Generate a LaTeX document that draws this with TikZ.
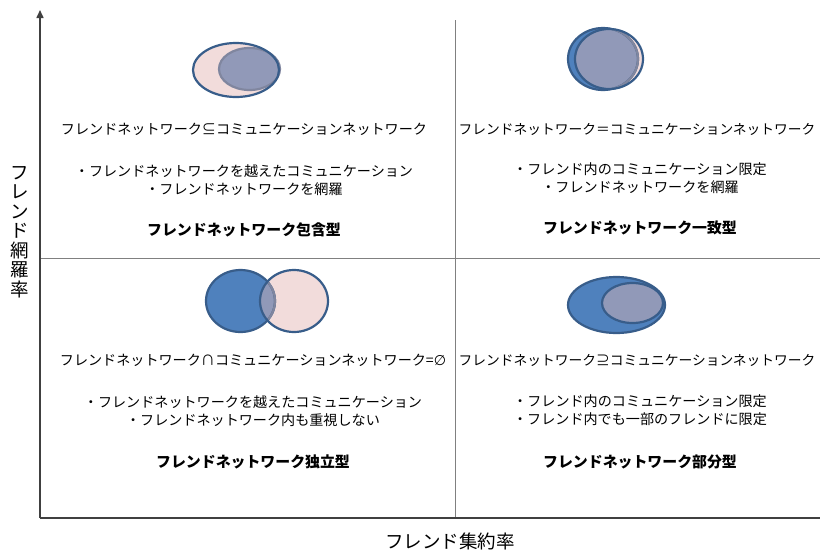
\documentclass[tikz,border=0pt]{standalone}
\usepackage{fontspec}
\usetikzlibrary{arrows.meta}
\newfontfamily\jp{Noto Sans CJK JP}
\newfontfamily\dv{DejaVu Sans}
\definecolor{eblue}{HTML}{4F81BD}
\definecolor{estroke}{HTML}{385D8A}
\definecolor{epink}{HTML}{F2DCDB}
\definecolor{egray}{HTML}{9199B8}
\definecolor{egstroke}{HTML}{80869F}
\begin{document}
\begin{tikzpicture}[x=1pt,y=-1pt,
  txt/.style={font=\jp\fontsize{14.1}{18.5}\selectfont, align=center, inner sep=0pt},
  txtr/.style={font=\jp\fontsize{13.75}{18.5}\selectfont, align=center, inner sep=0pt},
  ttl/.style={font=\jp\bfseries\fontsize{14.9}{18}\selectfont, inner sep=0pt},
  axisline/.style={draw=black!75, line width=1.5pt},
  gridline/.style={draw=black!50, line width=0.9pt},
  ell/.style={draw=estroke, line width=2.2pt},
  ellg/.style={draw=egstroke, line width=2.2pt},
  lab/.style={font=\jp\fontsize{18.5}{19.5}\selectfont, align=center, inner sep=0pt}]
\useasboundingbox (0,0) rectangle (820,552);
\fill[white] (0,0) rectangle (820,552);

% grid lines
\coordinate (vt) at (455,20);
\coordinate (vb) at (455,518);
\coordinate (hl) at (40,258);
\coordinate (hr) at (820,258);
\draw[gridline] (vt) -- (vb);
\draw[gridline] (hl) -- (hr);

% axes
\coordinate (o) at (40,518);
\coordinate (ytop) at (40,10);
\coordinate (xend) at (820,518);
\draw[axisline,-{Triangle[length=8pt,width=7pt]}] (o) -- (ytop);
\draw[axisline] (o) -- (xend);

% TL ellipses: pink outer, gray inner
\fill[epink] (236,70) ellipse [x radius=43pt, y radius=27pt];
\fill[egray] (249.5,69) ellipse [x radius=30.5pt, y radius=21pt];
\draw[ellg] (249.5,69) ellipse [x radius=30.5pt, y radius=21pt];
\draw[ell] (236,70) ellipse [x radius=43pt, y radius=27pt];

% TR ellipses: blue A, pink B on top
\fill[eblue] (603,59) ellipse [x radius=35pt, y radius=31pt];
\fill[epink] (609,59) ellipse [x radius=34pt, y radius=30pt];
\begin{scope}
  \clip (603,59) ellipse [x radius=35pt, y radius=31pt];
  \fill[egray] (609,59) ellipse [x radius=34pt, y radius=30pt];
\end{scope}
\draw[ell] (603,59) ellipse [x radius=35pt, y radius=31pt];
\begin{scope}
  \clip (609,59) ellipse [x radius=34pt, y radius=30pt];
  \draw[ellg] (603,59) ellipse [x radius=35pt, y radius=31pt];
\end{scope}
\draw[ell] (609,59) ellipse [x radius=34pt, y radius=30pt];

% BL ellipses
\fill[eblue] (240.5,301) ellipse [x radius=34.5pt, y radius=31pt];
\fill[epink] (294,301) ellipse [x radius=34pt, y radius=31pt];
\begin{scope}
  \clip (240.5,301) ellipse [x radius=34.5pt, y radius=31pt];
  \fill[egray] (294,301) ellipse [x radius=34pt, y radius=31pt];
\end{scope}
\draw[ell] (240.5,301) ellipse [x radius=34.5pt, y radius=31pt];
\begin{scope}
  \clip (294,301) ellipse [x radius=34pt, y radius=31pt];
  \draw[ellg] (240.5,301) ellipse [x radius=34.5pt, y radius=31pt];
\end{scope}
\draw[ell] (294,301) ellipse [x radius=34pt, y radius=31pt];

% BR ellipses
\fill[eblue] (616.5,305) ellipse [x radius=48.5pt, y radius=28pt];
\draw[ell] (616.5,305) ellipse [x radius=48.5pt, y radius=28pt];
\fill[egray] (632.5,303) ellipse [x radius=30.5pt, y radius=20pt];
\draw[ell] (632.5,303) ellipse [x radius=30.5pt, y radius=20pt];

% TL texts
\node[txt] (tl1) at (244,129) {フレンドネットワーク⊆コミュニケーションネットワーク};
\node[txt] (tl2) at (244,180) {・フレンドネットワークを越えたコミュニケーション\\・フレンドネットワークを網羅};
\node[ttl] (tl3) at (244,230) {フレンドネットワーク包含型};

% TR texts
\node[txtr] (tr1) at (637,129) {フレンドネットワーク＝コミュニケーションネットワーク};
\node[txt] (tr2) at (640,178) {・フレンド内のコミュニケーション限定\\・フレンドネットワークを網羅};
\node[ttl] (tr3) at (640,228) {フレンドネットワーク一致型};

% BL texts
\node[txt] (bl1) at (253,360) {フレンドネットワーク∩コミュニケーションネットワーク={\dv ∅}};
\node[txt] (bl2) at (253,411) {・フレンドネットワークを越えたコミュニケーション\\・フレンドネットワーク内も重視しない};
\node[ttl] (bl3) at (253,462) {フレンドネットワーク独立型};

% BR texts
\node[txtr] (br1) at (637,360) {フレンドネットワーク⊇コミュニケーションネットワーク};
\node[txt] (br2) at (640,410) {・フレンド内のコミュニケーション限定\\・フレンド内でも一部のフレンドに限定};
\node[ttl] (br3) at (640,462) {フレンドネットワーク部分型};

% axis labels
\node[lab] (ylab) at (20,232) {フ\\レ\\ン\\ド\\網\\羅\\率};
\node[lab] (xlab) at (450,541) {フレンド集約率};
\end{tikzpicture}
\end{document}
